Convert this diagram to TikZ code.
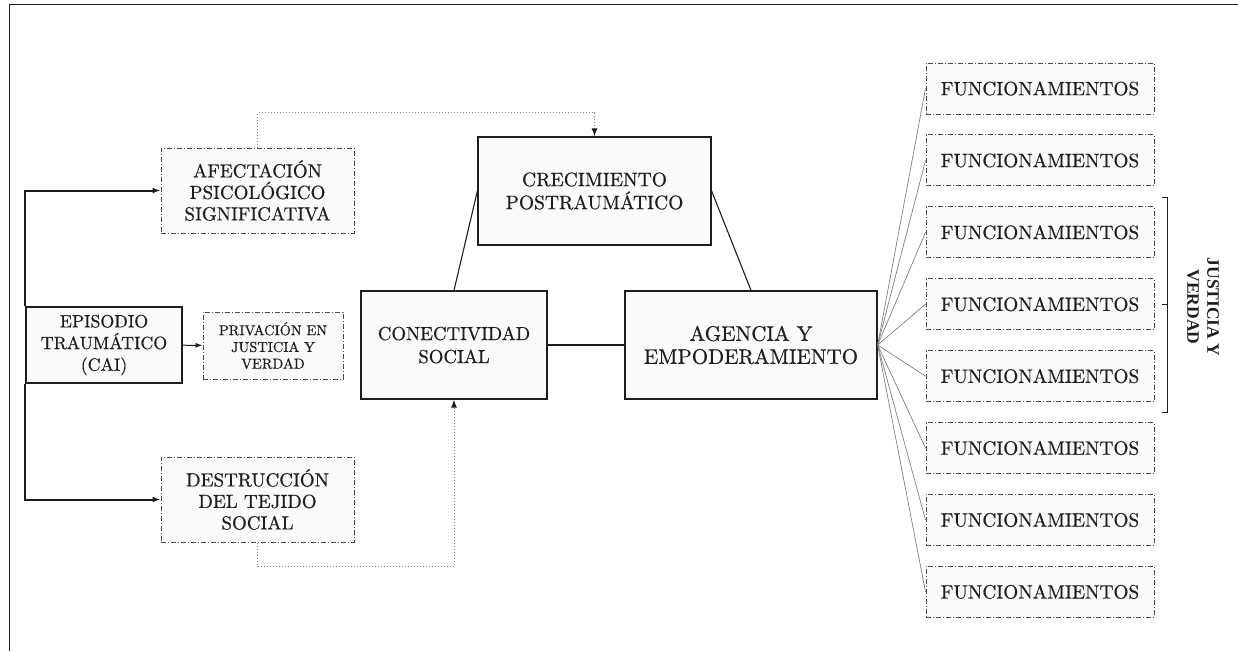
\documentclass[tikz,border=0pt]{standalone}
\usepackage{fontspec}
\setmainfont{lmroman10-regular.otf}[BoldFont=lmroman10-bold.otf, FakeBold=0.5]
\newfontfamily\timesfont{Liberation Serif}
\usepackage{tikz}
\usetikzlibrary{arrows.meta,calc}
\definecolor{ink}{HTML}{1E1E1E}
\definecolor{dashgray}{HTML}{4A4A4A}
\definecolor{dotgray}{HTML}{8A8A8A}
\definecolor{paper}{HTML}{FAFAFA}
\tikzset{
  solidbox/.style={draw=ink, fill=paper, line width=1.3pt, align=center, text=ink, inner sep=0pt},
  dashbox/.style={draw=dashgray, fill=paper, line width=1pt, dash pattern=on 5pt off 2pt on 1pt off 2pt, align=center, text=ink, inner sep=0pt},
  link/.style={draw=ink, line width=1.1pt},
  heavy/.style={draw=ink, line width=2pt, -{Latex[length=8pt,width=6pt]}},
  thinarrow/.style={draw=ink, line width=1pt, -{Latex[length=7pt,width=5pt]}},
  dotlink/.style={draw=dotgray, dotted, line width=1pt, -{Latex[length=8pt,width=6pt,color=ink]}},
  fanline/.style={draw=gray, line width=0.7pt}
}

\begin{document}
\begin{tikzpicture}[x=1pt, y=-1pt]
  \useasboundingbox (0,0) rectangle (1238,651);
  \draw[ink, line width=1pt] (1238,4) -- (9,4) -- (9,651);

  % left column
  \node[solidbox, minimum width=156pt, minimum height=76pt, font=\fontsize{17.8}{21.7}\selectfont] (epi) at (104,345) {EPISODIO\\TRAUMÁTICO\\(CAI)};
  \node[dashbox, minimum width=193pt, minimum height=85pt, font=\fontsize{19}{21.5}\selectfont] (afe) at (257.5,190.5) {AFECTACIÓN\\PSICOLÓGICO\\SIGNIFICATIVA};
  \node[dashbox, minimum width=140pt, minimum height=67pt, font=\fontsize{14.4}{16.7}\selectfont] (pri) at (273,345.5) {PRIVACIÓN EN\\JUSTICIA Y\\VERDAD};
  \node[dashbox, minimum width=193pt, minimum height=85pt, font=\fontsize{19}{21.5}\selectfont] (des) at (257.5,499.5) {DESTRUCCIÓN\\DEL TEJIDO\\SOCIAL};

  % triangle
  \node[solidbox, minimum width=233pt, minimum height=108pt, font=\fontsize{19.5}{23}\selectfont] (cre) at (594.5,191) {CRECIMIENTO\\POSTRAUMÁTICO};
  \node[solidbox, minimum width=186pt, minimum height=108pt, font=\fontsize{18.8}{23}\selectfont] (con) at (454,345) {CONECTIVIDAD\\SOCIAL};
  \node[solidbox, minimum width=252pt, minimum height=108pt, font=\fontsize{21}{23}\selectfont] (age) at (751,345) {AGENCIA Y\\EMPODERAMIENTO};

  \foreach \i in {1,...,8}
    \node[dashbox, minimum width=228pt, minimum height=51pt, font=\fontsize{19.3}{22}\selectfont] (fun\i) at (1040,16.6+71.9*\i) {FUNCIONAMIENTOS};

  \draw[heavy] (epi.north west) |- (afe.west);
  \draw[heavy] (epi.south west) |- (des.west);
  \draw[thinarrow] (epi) -- (pri);

  \draw[dotlink] (afe.north) -- ++(0,-35) -| (cre.north);
  \draw[dotlink] (des.south) -- ++(0,24) -| (con.south);

  \draw[link] (con.north) -- (cre.west);
  \draw[link] (cre.east) -- (age.north);
  \draw[link] (con) -- (age);

  \foreach \i in {1,...,8}
    \draw[fanline] (age.east) -- (fun\i.west);

  % bracket
  \coordinate (brt) at (1167,197);
  \coordinate (brb) at (1167,412);
  \draw[ink, line width=0.8pt] ([xshift=-5pt]brt) -- (brt) -- (brb) -- ([xshift=-5pt]brb);
  \draw[ink, line width=0.8pt] ($(brt)!0.5!(brb)$) -- ++(-5,0);
  \node[rotate=-90, align=center, text=ink, font=\timesfont\bfseries\fontsize{17.5}{20}\selectfont] (jv) at (1203,307) {JUSTICIA Y\\VERDAD};
\end{tikzpicture}
\end{document}
